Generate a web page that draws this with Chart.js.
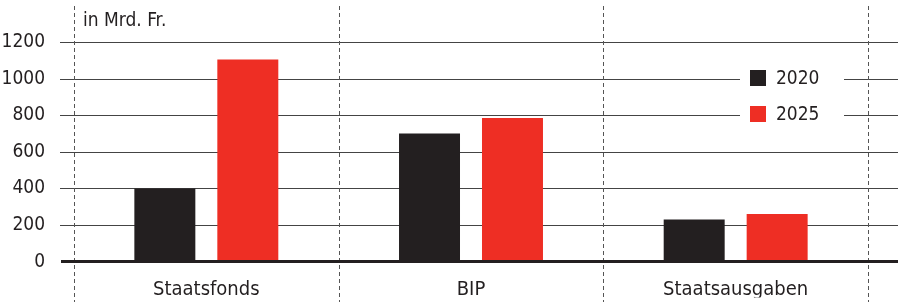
<!DOCTYPE html>
<html>
<head>
<meta charset="utf-8">
<script src="https://cdn.jsdelivr.net/npm/chart.js@4/dist/chart.umd.min.js"></script>
<style>
  html, body { margin: 0; padding: 0; background: #fff; }
  #wrap { width: 898px; height: 302px; }
</style>
</head>
<body>
<div id="wrap"><canvas id="chart"></canvas></div>
<script>
'use strict'

// data
const categories = ['Staatsfonds', 'BIP', 'Staatsausgaben'];
const years = ['2020', '2025'];
const values2020 = [400, 700, 230];
const values2025 = [1105, 785, 260];
const yTicks = [0, 200, 400, 600, 800, 1000, 1200];
const unitLabel = 'in Mrd. Fr.';

const FONT = '"DejaVu Sans Condensed", "DejaVu Sans", sans-serif';
const INK = '#231f20';
const RED = '#ee2e24';

// dashed verticals, extended horizontals, unit text, legend
const framePlugin = {
  id: 'frame',
  beforeDatasetsDraw(chart) {
    const ctx = chart.ctx;
    const x = chart.scales.x;
    const y = chart.scales.y;
    const h = chart.height;
    ctx.save();

    // horizontal grid
    ctx.strokeStyle = '#444';
    ctx.lineWidth = 1;
    yTicks.forEach(function(v) {
      if (v === 0) return;
      const py = Math.round(y.getPixelForValue(v)) + 0.5;
      ctx.beginPath();
      ctx.moveTo(60, py);
      ctx.lineTo(chart.width, py);
      ctx.stroke();
    });

    // dashed category borders
    ctx.strokeStyle = '#555';
    ctx.setLineDash([4, 3]);
    const half = (x.getPixelForValue(1) - x.getPixelForValue(0)) / 2;
    for (let i = 0; i <= categories.length; i++) {
      const px = Math.round(x.getPixelForValue(0) - half + i * half * 2) + 0.5;
      ctx.beginPath();
      ctx.moveTo(px, 6);
      ctx.lineTo(px, h);
      ctx.stroke();
    }
    ctx.setLineDash([]);

    // unit
    ctx.fillStyle = INK;
    ctx.font = '19px ' + FONT;
    ctx.textAlign = 'left';
    ctx.textBaseline = 'middle';
    ctx.fillText(unitLabel, 83, 21);
    ctx.restore();
  },
  afterDatasetsDraw(chart) {
    const ctx = chart.ctx;
    const y = chart.scales.y;
    ctx.save();
    // zero line
    const py0 = y.getPixelForValue(0);
    ctx.strokeStyle = INK;
    ctx.lineWidth = 3;
    ctx.beginPath();
    ctx.moveTo(61, py0);
    ctx.lineTo(chart.width, py0);
    ctx.stroke();

    // legend
    ctx.fillStyle = '#fff';
    ctx.fillRect(740, 62, 104, 66);
    chart.data.datasets.forEach(function(ds, i) {
      const cy = 78 + i * 36;
      ctx.fillStyle = ds.backgroundColor;
      ctx.fillRect(750, cy - 8, 16, 16);
      ctx.fillStyle = INK;
      ctx.font = '19px ' + FONT;
      ctx.textAlign = 'left';
      ctx.textBaseline = 'middle';
      ctx.fillText(ds.label, 776, cy + 1);
    });
    ctx.restore();
  }
};

const ctx = document.getElementById('chart').getContext('2d');
const chart = new Chart(ctx, {
  type: 'bar',
  data: {
    labels: categories,
    datasets: [
      { label: years[0], data: values2020, backgroundColor: INK },
      { label: years[1], data: values2025, backgroundColor: RED }
    ]
  },
  options: {
    responsive: true,
    maintainAspectRatio: false,
    animation: false,
    datasets: { bar: { categoryPercentage: 0.627, barPercentage: 0.735 } },
    layout: { padding: { top: 42, right: 30, left: 0, bottom: 0 } },
    plugins: { legend: { display: false }, tooltip: { enabled: false } },
    scales: {
      x: {
        grid: { display: false, drawTicks: false },
        border: { display: false },
        ticks: { color: INK, font: { family: FONT, size: 20 }, padding: 16 },
        afterFit: function(scale) { scale.height = 36; }
      },
      y: {
        min: 0,
        max: 1200,
        afterBuildTicks: function(scale) {
          scale.ticks = yTicks.map(function(v) { return { value: v }; });
        },
        grid: { display: false, drawTicks: false },
        border: { display: false },
        ticks: {
          color: INK,
          font: { family: FONT, size: 19 },
          padding: 29,
          callback: function(value) { return String(value); }
        },
        afterFit: function(scale) { scale.width = 74; }
      }
    }
  },
  plugins: [framePlugin]
});
</script>
</body>
</html>
